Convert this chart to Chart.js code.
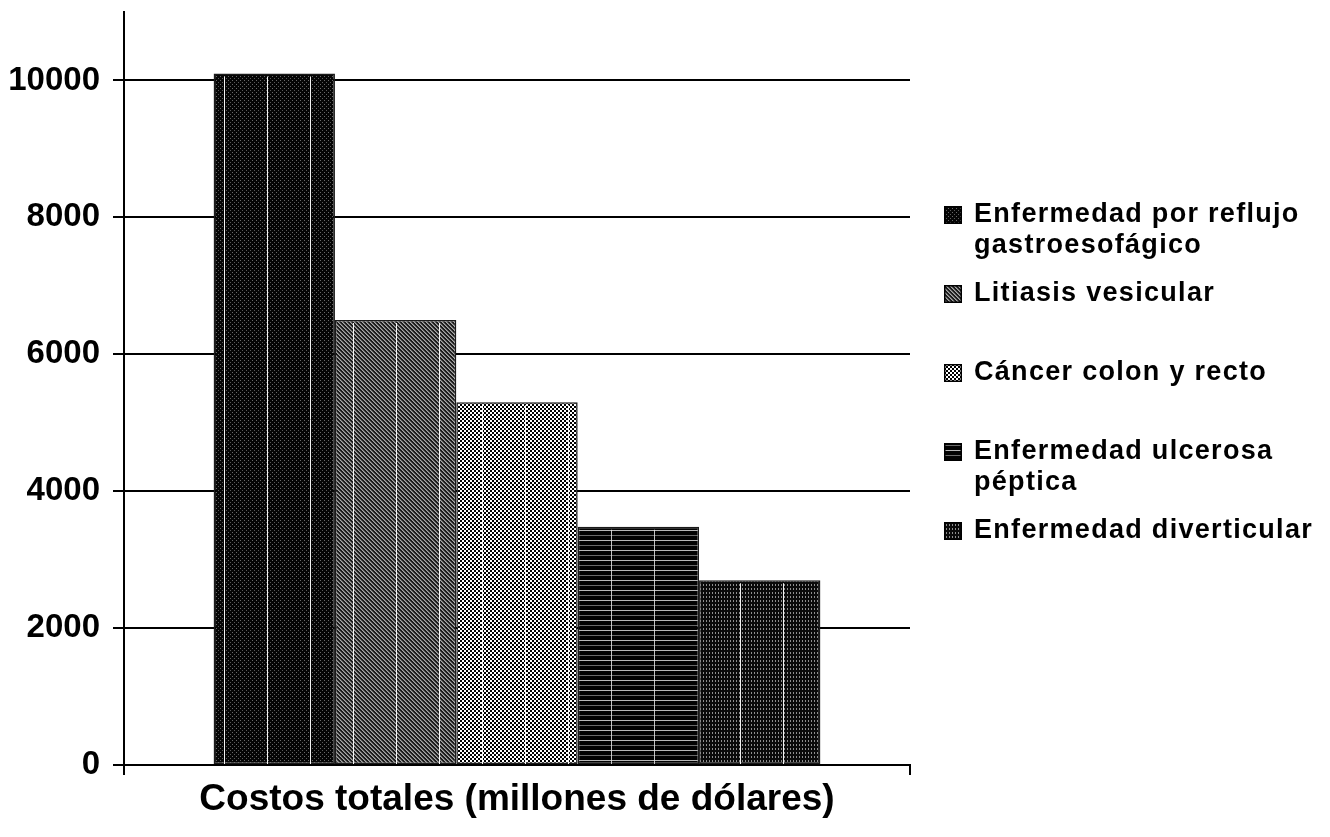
<!DOCTYPE html>
<html>
<head>
<meta charset="utf-8">
<script src="https://cdn.jsdelivr.net/npm/chart.js@4/dist/chart.umd.min.js"></script>
<style>
  html, body { margin: 0; padding: 0; background: #ffffff; }
  #wrap { width: 1330px; height: 837px; position: relative; }
</style>
</head>
<body>
<div id="wrap"><canvas id="c" width="1330" height="837"></canvas></div>
<script>
// ---- data ----
const categories = [''];
const seriesLines = [
  ['Enfermedad por reflujo', 'gastroesofágico'],
  ['Litiasis vesicular'],
  ['Cáncer colon y recto'],
  ['Enfermedad ulcerosa', 'péptica'],
  ['Enfermedad diverticular']
];
const costValues = [10100, 6500, 5300, 3480, 2700];
const yTicks = [0, 2000, 4000, 6000, 8000, 10000];
const yMax = 11000;
const axisTitle = 'Costos totales (millones de dólares)';

// ---- fill textures ----
const canvas = document.getElementById('c');
const mainCtx = canvas.getContext('2d');

function tile(w, h, paint) {
  const t = document.createElement('canvas');
  t.width = w; t.height = h;
  const g = t.getContext('2d');
  paint(g, w, h);
  return mainCtx.createPattern(t, 'repeat');
}
function px(g, x, y, c) { g.fillStyle = c; g.fillRect(x, y, 1, 1); }

const fills = [
  // sparse grey dots on black
  tile(4, 4, (g, w, h) => {
    g.fillStyle = '#050505'; g.fillRect(0, 0, w, h);
    px(g, 0, 0, '#6a6a6a'); px(g, 2, 2, '#5a5a5a');
  }),
  // diagonal hatch
  tile(4, 4, (g, w, h) => {
    for (let y = 0; y < h; y++) for (let x = 0; x < w; x++) {
      const k = (x - y + 8) % 4;
      px(g, x, y, k === 0 ? '#a8a8a8' : (k === 1 ? '#6a6a6a' : '#1c1c1c'));
    }
  }),
  // checkerboard
  tile(4, 4, (g, w, h) => {
    g.fillStyle = '#ffffff'; g.fillRect(0, 0, w, h);
    g.fillStyle = '#000000'; g.fillRect(0, 0, 2, 2); g.fillRect(2, 2, 2, 2);
  }),
  // horizontal stripes on black
  tile(2, 10, (g, w, h) => {
    g.fillStyle = '#020202'; g.fillRect(0, 0, w, h);
    g.fillStyle = '#b8b8b8'; g.fillRect(0, 0, w, 1);
    g.fillStyle = '#6a6a6a'; g.fillRect(0, 5, w, 1);
  }),
  // vertical dashes on black
  tile(3, 4, (g, w, h) => {
    g.fillStyle = '#0a0a0a'; g.fillRect(0, 0, w, h);
    px(g, 1, 0, '#8e8e8e'); px(g, 1, 1, '#8e8e8e');
  })
];

// thin light seams running through the bars
const seamPlugin = {
  id: 'seams',
  afterDatasetsDraw(chart) {
    const ctx = chart.ctx;
    const area = chart.chartArea;
    chart.data.datasets.forEach((ds, i) => {
      const bar = chart.getDatasetMeta(i).data[0];
      if (!bar) return;
      const left = bar.x - bar.width / 2, right = bar.x + bar.width / 2;
      ctx.save();
      ctx.beginPath();
      ctx.rect(left + 2, bar.y + 3, bar.width - 4, bar.base - bar.y - 3);
      ctx.clip();
      ctx.strokeStyle = i === 3 ? 'rgba(230,230,230,0.85)' : 'rgba(255,255,255,0.95)';
      ctx.lineWidth = 1;
      for (let x = area.left + 14; x < right; x += 43) {
        if (x < left) continue;
        ctx.beginPath();
        ctx.moveTo(Math.round(x) + 0.5, bar.y);
        ctx.lineTo(Math.round(x) + 0.5, bar.base);
        ctx.stroke();
      }
      ctx.restore();
    });
  }
};

// legend on the right, fixed slot per entry
const sideLegend = {
  id: 'sideLegend',
  afterDraw(chart) {
    const ctx = chart.ctx;
    const area = chart.chartArea;
    const boxX = area.right + 34;
    const textX = boxX + 30;
    const firstY = area.top + 203;
    const slot = 79;
    const lineGap = 31;
    ctx.save();
    ctx.font = 'bold 27px "Liberation Sans", Arial, sans-serif';
    if ('letterSpacing' in ctx) ctx.letterSpacing = '1.3px';
    ctx.textBaseline = 'middle';
    ctx.textAlign = 'left';
    chart.data.datasets.forEach((ds, i) => {
      const cy = firstY + i * slot;
      ctx.fillStyle = ds.backgroundColor;
      ctx.fillRect(boxX, cy - 9, 18, 18);
      ctx.strokeStyle = '#000000';
      ctx.lineWidth = 1.5;
      ctx.strokeRect(boxX + 0.75, cy - 8.25, 16.5, 16.5);
      ctx.fillStyle = '#000000';
      seriesLines[i].forEach((line, j) => {
        ctx.fillText(line, textX, cy + j * lineGap);
      });
    });
    ctx.restore();
  }
};

Chart.defaults.font.family = '"Liberation Sans", Arial, sans-serif';
Chart.defaults.color = '#000000';

new Chart(canvas, {
  type: 'bar',
  data: {
    labels: categories,
    datasets: seriesLines.map((lines, i) => ({
      label: lines.join(' '),
      data: [costValues[i]],
      backgroundColor: fills[i],
      borderColor: '#1a1a1a',
      borderWidth: 1.5,
      borderSkipped: false,
      barPercentage: 1.0,
      categoryPercentage: 0.772
    }))
  },
  options: {
    responsive: false,
    animation: false,
    devicePixelRatio: 1,
    layout: { padding: { top: 12, right: 420, left: 0, bottom: 0 } },
    plugins: {
      legend: { display: false },
      tooltip: { enabled: false },
      title: { display: false }
    },
    scales: {
      x: {
        grid: {
          display: true,
          drawOnChartArea: false,
          drawTicks: true,
          tickLength: 10,
          color: '#000000',
          lineWidth: 2
        },
        border: { display: true, color: '#000000', width: 2 },
        ticks: { display: true, padding: 0, font: { size: 1 } },
        title: {
          display: true,
          text: axisTitle,
          color: '#000000',
          font: { size: 37, weight: 'bold', lineHeight: 1.2 },
          padding: { top: 0, bottom: 15 }
        },
        afterFit(scale) {
          scale.height = 72;
          scale.paddingLeft = 0;
          scale.paddingRight = 0;
        }
      },
      y: {
        min: 0,
        max: yMax,
        grid: {
          color: '#000000',
          lineWidth: 2,
          drawTicks: true,
          tickLength: 11
        },
        border: { display: true, color: '#000000', width: 2 },
        ticks: {
          padding: 13,
          color: '#000000',
          font: { size: 33, weight: 'bold' },
          callback: (v) => String(v)
        },
        afterBuildTicks(scale) {
          scale.ticks = yTicks.map(v => ({ value: v }));
        },
        afterFit(scale) {
          scale.width = 124;
          scale.paddingTop = 0;
          scale.paddingBottom = 0;
        }
      }
    }
  },
  plugins: [seamPlugin, sideLegend]
});
</script>
</body>
</html>
